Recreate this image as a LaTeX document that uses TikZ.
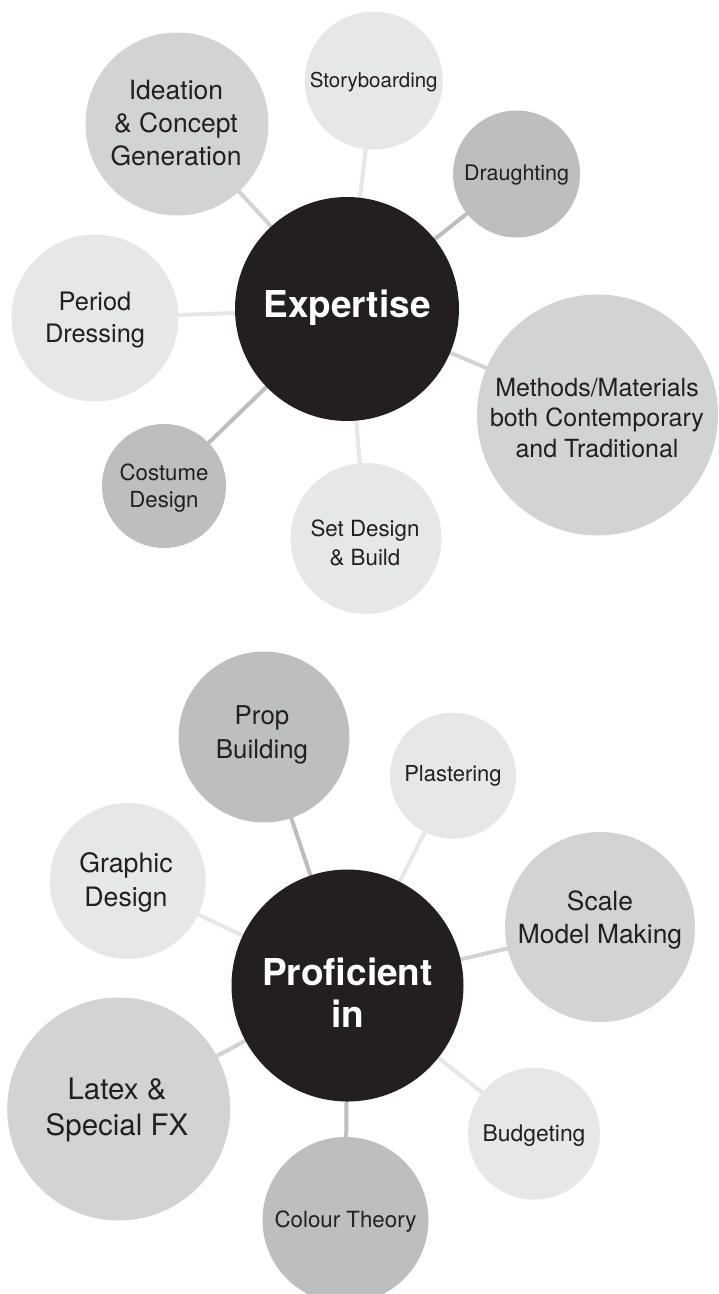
\documentclass[tikz,border=0pt]{standalone}
\usepackage{fontspec}
\setmainfont{TeX Gyre Heros}
\definecolor{ink}{HTML}{231F20}
\definecolor{clight}{HTML}{E6E7E8}
\definecolor{cmid}{HTML}{D1D3D4}
\definecolor{cdark}{HTML}{BCBEC0}
\pgfdeclarelayer{bg}
\pgfsetlayers{bg,main}
\tikzset{
  bub/.style={circle, draw=none, inner sep=0pt, fill=#1},
  hub/.style={circle, draw=none, inner sep=0pt, fill=ink},
  link/.style={line width=4pt, draw=#1},
  lbl/.style={align=center, text=ink, inner sep=0pt, anchor=center},
  hublbl/.style={align=center, text=white, inner sep=0pt, anchor=center, font=\bfseries\fontsize{37}{42}\selectfont},
}
\begin{document}
\begin{tikzpicture}[x=1pt,y=-1pt]
\useasboundingbox (0,0) rectangle (718,1294);
% ---------------- Expertise cluster ----------------
\node[hub, minimum size=224pt] (E) at (347,309) {};
\node[bub=cmid,   minimum size=183pt] (ideation) at (177,124) {};
\node[bub=clight, minimum size=138pt] (story) at (373.7,80.6) {};
\node[bub=cdark,  minimum size=127pt] (draught) at (516.6,174) {};
\node[bub=clight, minimum size=167pt] (period) at (95,318) {};
\node[bub=cmid,   minimum size=241pt] (methods) at (597.5,415) {};
\node[bub=cdark,  minimum size=124pt] (costume) at (164,486) {};
\node[bub=clight, minimum size=151pt] (setd) at (366,538.5) {};
\begin{pgfonlayer}{bg}
\draw[link=cmid]   (E.center) -- (ideation.center);
\draw[link=clight] (E.center) -- (story.center);
\draw[link=cdark]  (E.center) -- (draught.center);
\draw[link=clight] (E.center) -- (period.center);
\draw[link=cmid]   (E.center) -- (methods.center);
\draw[link=cdark]  (E.center) -- (costume.center);
\draw[link=clight] (E.center) -- (setd.center);
\end{pgfonlayer}
\node[hublbl] (tE) at (347,308) {Expertise};
\node[lbl, font=\fontsize{26.5}{33}\selectfont] (tideation) at (176,123) {Ideation\\\&~Concept\\Generation};
\node[lbl, font=\fontsize{20.5}{24}\selectfont] (tstory) at (373.7,82) {Storyboarding};
\node[lbl, font=\fontsize{21.5}{24}\selectfont] (tdraught) at (516.6,175.5) {Draughting};
\node[lbl, font=\fontsize{25.4}{32.5}\selectfont] (tperiod) at (95,320) {Period\\Dressing};
\node[lbl, font=\fontsize{25}{30.5}\selectfont] (tmethods) at (597,418) {Methods/Materials\\both Contemporary\\and Traditional};
\node[lbl, font=\fontsize{22.2}{26.5}\selectfont] (tcostume) at (164,488) {Costume\\Design};
\node[lbl, font=\fontsize{22.3}{29}\selectfont] (tsetd) at (365,542.5) {Set Design\\\&~Build};
% ---------------- Proficient cluster ----------------
\node[hub, minimum size=232pt] (P) at (347.5,985.5) {};
\node[bub=cdark,  minimum size=171pt] (prop) at (264,737) {};
\node[bub=clight, minimum size=126pt] (plaster) at (453,775.7) {};
\node[bub=clight, minimum size=156pt] (graphic) at (127.7,881) {};
\node[bub=cmid,   minimum size=190pt] (scale) at (600,927) {};
\node[bub=cmid,   minimum size=223pt] (latex) at (118.7,1109) {};
\node[bub=clight, minimum size=132pt] (budget) at (534,1133.7) {};
\node[bub=cdark,  minimum size=166pt] (colour) at (345.5,1220) {};
\begin{pgfonlayer}{bg}
\draw[link=cdark]  (P.center) -- (prop.center);
\draw[link=clight] (P.center) -- (plaster.center);
\draw[link=clight] (P.center) -- (graphic.center);
\draw[link=cmid]   (P.center) -- (scale.center);
\draw[link=cmid]   (P.center) -- (latex.center);
\draw[link=clight] (P.center) -- (budget.center);
\draw[link=cdark]  (P.center) -- (colour.center);
\end{pgfonlayer}
\node[hublbl] (tP) at (347.5,993) {Proficient\\in};
\node[lbl, font=\fontsize{25.9}{33.5}\selectfont] (tprop) at (262,735) {Prop\\Building};
\node[lbl, font=\fontsize{22}{24}\selectfont] (tplaster) at (453,775.5) {Plastering};
\node[lbl, font=\fontsize{26.7}{34}\selectfont] (tgraphic) at (126,882) {Graphic\\Design};
\node[lbl, font=\fontsize{26.4}{33.6}\selectfont] (tscale) at (600,920) {Scale\\Model Making};
\node[lbl, font=\fontsize{29.5}{36.5}\selectfont] (tlatex) at (117,1110) {Latex \&\\Special FX};
\node[lbl, font=\fontsize{22.9}{26}\selectfont] (tbudget) at (534,1135.5) {Budgeting};
\node[lbl, font=\fontsize{22.3}{26}\selectfont] (tcolour) at (345.5,1221.5) {Colour Theory};
\end{tikzpicture}
\end{document}
